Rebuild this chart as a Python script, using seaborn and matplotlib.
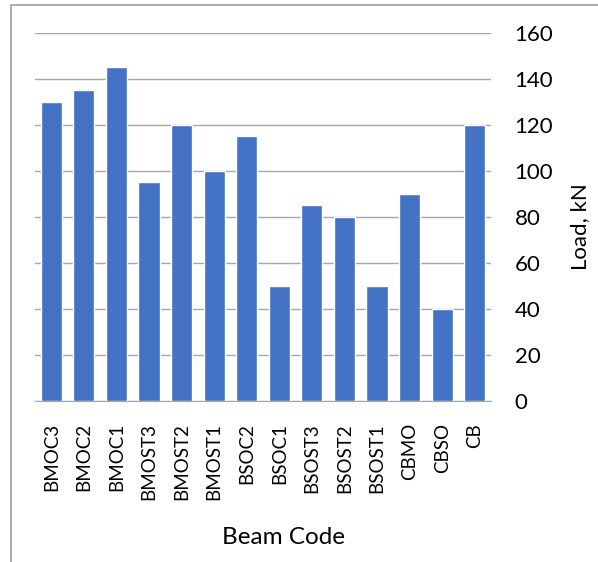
import matplotlib
matplotlib.use("Agg")
import matplotlib.pyplot as plt
import seaborn as sns
import pandas as pd
from matplotlib.patches import Rectangle

# ===================== DATA =====================
beams = ["BMOC3", "BMOC2", "BMOC1", "BMOST3", "BMOST2", "BMOST1", "BSOC2",
         "BSOC1", "BSOST3", "BSOST2", "BSOST1", "CBMO", "CBSO", "CB"]
loads = [130, 135, 145, 95, 120, 100, 115, 50, 85, 80, 50, 90, 40, 120]
y_ticks = [0, 20, 40, 60, 80, 100, 120, 140, 160]

df = pd.DataFrame({"Beam": beams, "Load": loads})

sns.set_style("white")
plt.rcParams["font.family"] = ["Lato", "DejaVu Sans"]
plt.rcParams["text.color"] = "black"
plt.rcParams["xtick.color"] = "black"
plt.rcParams["ytick.color"] = "black"
plt.rcParams["axes.labelcolor"] = "black"

W, H = 598, 562
fig = plt.figure(figsize=(W / 100, H / 100), dpi=100)
ax = fig.add_axes([35 / W, 1 - 401 / H, (491 - 35) / W, (401 - 33) / H])

sns.barplot(data=df, x="Beam", y="Load", color="#4472C4", width=0.65,
            saturation=1, ax=ax, zorder=3)

ax.set_ylim(0, 160)
ax.set_yticks(y_ticks)
ax.yaxis.tick_right()
ax.yaxis.set_label_position("right")
ax.grid(axis="y", color="#a6a6a6", linewidth=1, zorder=0)
ax.tick_params(axis="y", length=0, labelsize=16, pad=17)
ax.tick_params(axis="x", length=0, labelsize=13.5, rotation=90, pad=16)
for s in ["top", "left", "right"]:
    ax.spines[s].set_visible(False)
ax.spines["bottom"].set_color("#a6a6a6")
ax.set_xlim(-0.5, len(beams) - 0.5)

ax.set_ylabel("")
ax.set_xlabel("")
fig.text(580 / W, 1 - 227 / H, "Load, kN", rotation=90, ha="center", va="center", fontsize=16)
fig.text(284 / W, 1 - 538 / H, "Beam Code", ha="center", va="center", fontsize=17.5)

# outer chart frame
fig.patches.append(Rectangle((11 / W, -0.1), 1.2, 1 - 5 / H + 0.1,
                             transform=fig.transFigure, fill=False,
                             edgecolor="#a0a0a0", linewidth=1.2))

fig.savefig("out.png", dpi=100)
